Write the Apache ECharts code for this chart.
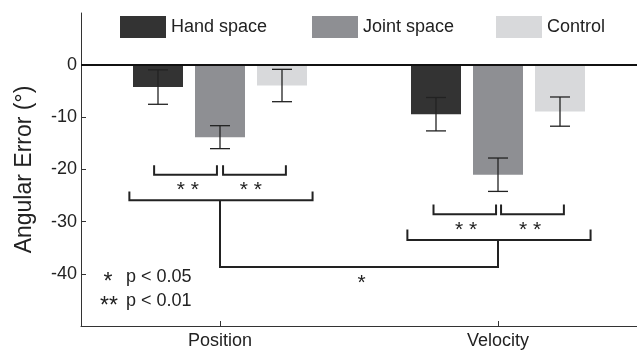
<!DOCTYPE html>
<html>
<head>
<meta charset="utf-8">
<script src="https://cdn.jsdelivr.net/npm/echarts@6/dist/echarts.min.js"></script>
<style>
  html, body { margin: 0; padding: 0; background: #ffffff; }
  #chart { width: 637px; height: 350px; }
</style>
</head>
<body>
<div id="chart"></div>
<script>
// Conditions along the x axis and the three groups of bars
const categories = ['Position', 'Velocity'];
const groupNames = ['Hand space', 'Joint space', 'Control'];

// Mean angular error (degrees) and its error-bar half width
const handMean = [-4.2, -9.4];
const handErr = [3.3, 3.2];
const jointMean = [-13.8, -21.0];
const jointErr = [2.2, 3.2];
const controlMean = [-3.9, -8.9];
const controlErr = [3.1, 2.8];

// Labelled ticks on the y axis
const yTickValues = [0, -10, -20, -30, -40];

// Significance brackets: [xStart, xEnd, yTip, yBar], x in category units
const pairBrackets = [
  [-0.237, -0.011, -19.2, -21.0],
  [0.011, 0.237, -19.2, -21.0],
  [0.768, 0.993, -26.7, -28.6],
  [1.011, 1.237, -26.7, -28.6]
];
const groupBrackets = [
  [-0.326, 0.333, -24.2, -25.9],
  [0.674, 1.333, -31.5, -33.5]
];
// Link between the two group brackets: [yFromPosition, yLink, yToVelocity]
const linkBracket = [-25.9, -38.7, -33.5];

// Significance marks: [x, y, text]
const sigMarks = [
  [-0.116, -23.1, '* *'],
  [0.111, -23.1, '* *'],
  [0.885, -30.6, '* *'],
  [1.115, -30.6, '* *'],
  [0.509, -40.8, '*']
];

const colors = ['#333333', '#8e8f93', '#d8d9db'];
const means = [handMean, jointMean, controlMean];
const errs = [handErr, jointErr, controlErr];

const BAR_WIDTH = 50;
const BAR_GAP = 12;
const FONT = '"Liberation Sans", Arial, Helvetica, sans-serif';
const INK = '#222222';
const STAR_SIZE = 21;

// Polylines for every bracket
const bracketPaths = [];
pairBrackets.concat(groupBrackets).forEach(function (b) {
  bracketPaths.push([[b[0], b[2]], [b[0], b[3]], [b[1], b[3]], [b[1], b[2]]]);
});
bracketPaths.push([[0, linkBracket[0]], [0, linkBracket[1]], [1, linkBracket[1]], [1, linkBracket[2]]]);

const barSeries = groupNames.map(function (name, g) {
  const s = {
    name: name,
    type: 'bar',
    xAxisIndex: 0,
    yAxisIndex: 0,
    data: means[g],
    barWidth: BAR_WIDTH,
    barGap: (BAR_GAP / BAR_WIDTH * 100) + '%',
    itemStyle: { color: colors[g] },
    z: 2
  };
  if (g === 0) {
    s.markLine = {
      silent: true,
      symbol: ['none', 'none'],
      label: { show: false },
      lineStyle: { color: '#111111', width: 2, type: 'solid' },
      data: [{ yAxis: 0 }],
      z: 5
    };
  }
  return s;
});

// Error bar data: [category, low, high, group]
const errData = [];
groupNames.forEach(function (name, g) {
  categories.forEach(function (c, i) {
    errData.push([i, means[g][i] - errs[g][i], means[g][i] + errs[g][i], g]);
  });
});

const errorSeries = {
  type: 'custom',
  xAxisIndex: 0,
  yAxisIndex: 0,
  data: errData,
  encode: { x: 0, y: [1, 2] },
  z: 4,
  silent: true,
  renderItem: function (params, api) {
    const c = api.value(0);
    const lo = api.coord([c, api.value(1)]);
    const hi = api.coord([c, api.value(2)]);
    const x = lo[0] + (api.value(3) - 1) * (BAR_WIDTH + BAR_GAP);
    const half = 10;
    const style = { stroke: INK, lineWidth: 1.3 };
    return {
      type: 'group',
      children: [
        { type: 'line', shape: { x1: x, y1: lo[1], x2: x, y2: hi[1] }, style: style },
        { type: 'line', shape: { x1: x - half, y1: lo[1], x2: x + half, y2: lo[1] }, style: style },
        { type: 'line', shape: { x1: x - half, y1: hi[1], x2: x + half, y2: hi[1] }, style: style }
      ]
    };
  }
};

const bracketSeries = {
  type: 'custom',
  xAxisIndex: 1,
  yAxisIndex: 0,
  data: bracketPaths.map(function (p) { return p[0]; }),
  encode: { x: 0, y: 1 },
  z: 4,
  silent: true,
  renderItem: function (params, api) {
    const pts = bracketPaths[params.dataIndex].map(function (p) { return api.coord(p); });
    return {
      type: 'polyline',
      shape: { points: pts },
      style: { stroke: INK, lineWidth: 2, fill: null }
    };
  }
};

const markSeries = {
  type: 'custom',
  xAxisIndex: 1,
  yAxisIndex: 0,
  data: sigMarks.map(function (m) { return [m[0], m[1]]; }),
  encode: { x: 0, y: 1 },
  z: 4,
  silent: true,
  renderItem: function (params, api) {
    const p = api.coord([api.value(0), api.value(1)]);
    return {
      type: 'text',
      x: p[0],
      y: p[1] + 5,
      style: {
        text: sigMarks[params.dataIndex][2],
        fontSize: STAR_SIZE,
        fontFamily: FONT,
        fill: INK,
        align: 'center',
        verticalAlign: 'middle'
      }
    };
  }
};

const legendLeft = [120, 312, 496];

const option = {
  animation: false,
  backgroundColor: '#ffffff',
  textStyle: { fontFamily: FONT },
  legend: groupNames.map(function (name, g) {
    return {
      data: [name],
      left: legendLeft[g],
      top: 16,
      padding: 0,
      itemWidth: 46,
      itemHeight: 22,
      icon: 'rect',
      selectedMode: false,
      textStyle: { fontSize: 18, color: INK, fontFamily: FONT }
    };
  }),
  grid: { left: 81, right: -2, top: 13, bottom: 24, containLabel: false },
  xAxis: [
    {
      type: 'category',
      data: categories,
      position: 'bottom',
      axisLine: { show: true, onZero: false, lineStyle: { color: '#333333', width: 1 } },
      axisTick: { show: true, inside: true, alignWithLabel: true, length: 5, lineStyle: { color: '#333333' } },
      axisLabel: { fontSize: 18, color: INK, margin: 6, fontFamily: FONT },
      splitLine: { show: false }
    },
    {
      type: 'value',
      min: -0.5,
      max: 1.5,
      position: 'bottom',
      axisLine: { show: false, onZero: false },
      axisTick: { show: false },
      axisLabel: { show: false },
      splitLine: { show: false }
    }
  ],
  yAxis: {
    type: 'value',
    min: -50,
    max: 10,
    interval: 10,
    position: 'left',
    name: 'Angular Error (°)',
    nameLocation: 'middle',
    nameRotate: 90,
    nameGap: 45,
    nameTextStyle: { fontSize: 23, color: INK, fontFamily: FONT },
    axisLine: { show: true, onZero: false, lineStyle: { color: '#333333', width: 1 } },
    axisTick: { show: true, inside: true, length: 5, customValues: yTickValues, lineStyle: { color: '#333333' } },
    axisLabel: { fontSize: 18, color: INK, margin: 4, customValues: yTickValues, fontFamily: FONT },
    splitLine: { show: false }
  },
  graphic: [
    { type: 'text', x: 108, y: 283, style: { text: '*', fontSize: 23, fontFamily: FONT, fill: INK, align: 'center', verticalAlign: 'middle' } },
    { type: 'text', x: 126, y: 277, style: { text: 'p < 0.05', fontSize: 18, fontFamily: FONT, fill: INK, align: 'left', verticalAlign: 'middle' } },
    { type: 'text', x: 109, y: 307, style: { text: '**', fontSize: 23, fontFamily: FONT, fill: INK, align: 'center', verticalAlign: 'middle' } },
    { type: 'text', x: 126, y: 301, style: { text: 'p < 0.01', fontSize: 18, fontFamily: FONT, fill: INK, align: 'left', verticalAlign: 'middle' } }
  ],
  series: barSeries.concat([errorSeries, bracketSeries, markSeries])
};

const chart = echarts.init(document.getElementById('chart'), null, { renderer: 'canvas' });
chart.setOption(option);
</script>
</body>
</html>
